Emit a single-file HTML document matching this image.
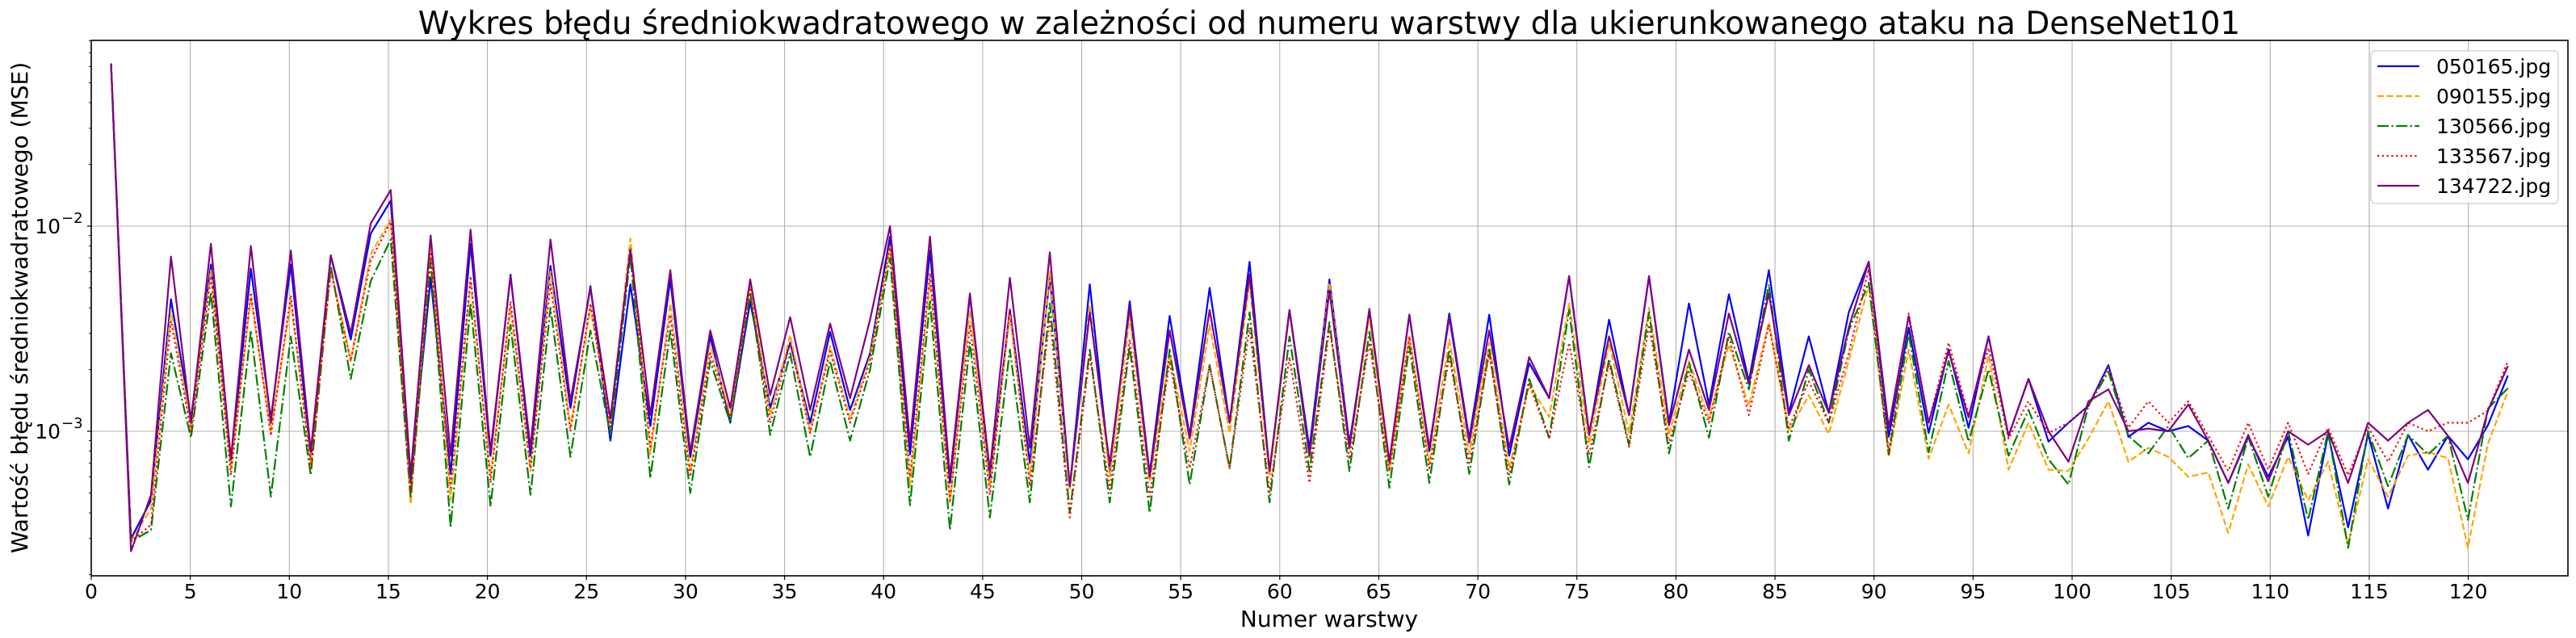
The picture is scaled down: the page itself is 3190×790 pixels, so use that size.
<!DOCTYPE html>
<html><head><meta charset="utf-8"><title>MSE chart</title>
<style>
html,body{margin:0;padding:0;background:#fff;}
svg{display:block;font-family:"DejaVu Sans","Liberation Sans",sans-serif;}
</style></head>
<body>
<svg id="chart" width="3190" height="790" viewBox="0 0 3190 790" xmlns="http://www.w3.org/2000/svg">
<rect x="0" y="0" width="3190" height="790" fill="#fff"/>
<text x="1646" y="42" font-size="39" text-anchor="middle" fill="#000">Wykres błędu średniokwadratowego w zależności od numeru warstwy dla ukierunkowanego ataku na DenseNet101</text>
<g id="grid"></g>
<g id="series"></g>
<rect x="113" y="50" width="3067" height="663" fill="none" stroke="#000" stroke-width="1.6"/>
<g id="axes"></g>
<text x="1646" y="776" font-size="28" text-anchor="middle" fill="#000">Numer warstwy</text>
<text transform="translate(34,381) rotate(-90)" font-size="28" text-anchor="middle" fill="#000">Wartość błędu średniokwadratowego (MSE)</text>
<g id="legend"></g>
</svg>
<script>
const seriesNames = ["050165.jpg","090155.jpg","130566.jpg","133567.jpg","134722.jpg"];
const xTicks = [0,5,10,15,20,25,30,35,40,45,50,55,60,65,70,75,80,85,90,95,100,105,110,115,120];
const yMajorTicks = [1e-3, 1e-2];
const yMajorLabels = ["−3", "−2"];
const layerFirst = 1;
const layerLast = 122;
const s050165 = [0.062,3.0e-4,4.6e-4,4.4e-3,1.15e-3,6.5e-3,7.0e-4,6.2e-3,1.15e-3,6.5e-3,7.3e-4,7.2e-3,2.8e-3,9.2e-3,1.33e-2,5.6e-4,5.6e-3,6.2e-4,8.2e-3,7.6e-4,5.8e-3,7.6e-4,6.4e-3,1.3e-3,5.1e-3,9.0e-4,5.2e-3,1.06e-3,5.5e-3,7.5e-4,2.9e-3,1.1e-3,4.3e-3,1.3e-3,2.7e-3,1.1e-3,3.05e-3,1.27e-3,2.4e-3,8.9e-3,7.7e-4,7.6e-3,5.6e-4,4.6e-3,5.7e-4,3.9e-3,7.0e-4,5.65e-3,5.3e-4,5.2e-3,6.4e-4,4.3e-3,6.2e-4,3.65e-3,9.5e-4,5.0e-3,1.1e-3,6.7e-3,6.4e-4,3.9e-3,8.2e-4,5.5e-3,8.7e-4,3.8e-3,7.0e-4,3.7e-3,8.0e-4,3.75e-3,9.2e-4,3.7e-3,7.6e-4,2.15e-3,1.45e-3,5.7e-3,9.6e-4,3.5e-3,1.2e-3,5.7e-3,1.1e-3,4.2e-3,1.35e-3,4.65e-3,1.75e-3,6.1e-3,1.23e-3,2.9e-3,1.23e-3,3.8e-3,6.7e-3,9.4e-4,3.2e-3,9.8e-4,2.5e-3,1.04e-3,2.9e-3,9.5e-4,1.8e-3,8.9e-4,1.1e-3,1.33e-3,2.1e-3,9.4e-4,1.1e-3,1.0e-3,1.06e-3,9.0e-4,5.6e-4,9.4e-4,6.0e-4,9.4e-4,3.1e-4,9.7e-4,3.4e-4,9.7e-4,4.2e-4,9.6e-4,6.5e-4,9.5e-4,7.3e-4,1.07e-3,1.87e-3];
const s090155 = [0.062,2.9e-4,4.2e-4,3.9e-3,1.05e-3,6.1e-3,6.6e-4,4.5e-3,1.0e-3,4.3e-3,7.0e-4,6.2e-3,2.2e-3,7.3e-3,1.08e-2,4.4e-4,8.2e-3,4.6e-4,5.4e-3,6.1e-4,4.0e-3,6.4e-4,6.0e-3,1.05e-3,4.0e-3,1.1e-3,8.7e-3,7.7e-4,4.2e-3,6.4e-4,2.65e-3,1.2e-3,5.3e-3,1.2e-3,2.95e-3,1.0e-3,2.6e-3,1.15e-3,2.3e-3,7.9e-3,5.4e-4,5.5e-3,4.5e-4,3.9e-3,5.4e-4,3.7e-3,6.0e-4,6.0e-3,5.2e-4,4.1e-3,6.0e-4,3.6e-3,5.7e-4,2.4e-3,8.0e-4,3.3e-3,9.8e-4,5.3e-3,6.0e-4,3.9e-3,7.3e-4,5.3e-3,8.2e-4,3.6e-3,6.4e-4,2.9e-3,7.0e-4,2.8e-3,7.8e-4,2.7e-3,6.6e-4,1.7e-3,1.17e-3,4.2e-3,8.7e-4,2.7e-3,9.8e-4,4.0e-3,9.6e-4,2.2e-3,1.15e-3,2.65e-3,1.33e-3,3.4e-3,1.0e-3,1.5e-3,9.7e-4,2.2e-3,5.2e-3,7.5e-4,2.5e-3,7.35e-4,1.35e-3,7.8e-4,2.35e-3,6.5e-4,1.1e-3,6.5e-4,6.4e-4,9.2e-4,1.4e-3,7.1e-4,8.3e-4,7.5e-4,6.0e-4,6.3e-4,3.2e-4,6.9e-4,4.3e-4,7.5e-4,4.6e-4,7.1e-4,2.8e-4,7.3e-4,4.8e-4,7.6e-4,7.9e-4,7.4e-4,2.7e-4,8.7e-4,1.57e-3];
const s130566 = [0.062,2.9e-4,3.3e-4,2.4e-3,9.3e-4,4.75e-3,4.3e-4,3.1e-3,4.8e-4,2.9e-3,6.1e-4,6.4e-3,1.8e-3,5.4e-3,8.6e-3,4.7e-4,6.8e-3,3.4e-4,4.2e-3,4.3e-4,3.3e-3,4.9e-4,4.0e-3,7.5e-4,3.1e-3,9.6e-4,7.2e-3,5.9e-4,3.1e-3,5.0e-4,2.2e-3,1.1e-3,4.7e-3,9.6e-4,2.4e-3,7.5e-4,2.2e-3,9.0e-4,2.0e-3,7.0e-3,4.35e-4,4.3e-3,3.3e-4,2.7e-3,3.8e-4,2.5e-3,4.5e-4,4.2e-3,4.0e-4,2.5e-3,4.5e-4,2.6e-3,4.0e-4,2.5e-3,5.5e-4,2.1e-3,6.6e-4,3.8e-3,4.5e-4,2.9e-3,6.4e-4,3.4e-3,6.4e-4,3.05e-3,5.3e-4,2.6e-3,5.6e-4,2.5e-3,6.2e-4,2.5e-3,5.5e-4,1.8e-3,9.3e-4,3.9e-3,6.7e-4,2.25e-3,8.6e-4,3.8e-3,7.8e-4,2.15e-3,9.3e-4,3.05e-3,1.6e-3,5.2e-3,9.0e-4,2.0e-3,1.1e-3,3.1e-3,5.3e-3,7.7e-4,3.0e-3,7.9e-4,2.2e-3,8.9e-4,2.0e-3,7.6e-4,1.27e-3,7.3e-4,5.5e-4,1.33e-3,1.95e-3,9.5e-4,7.8e-4,1.06e-3,7.4e-4,9.0e-4,4.2e-4,9.4e-4,4.8e-4,1.0e-3,3.7e-4,1.0e-3,2.7e-4,1.0e-3,5.4e-4,9.6e-4,7.7e-4,9.5e-4,3.7e-4,1.29e-3,1.62e-3];
const s133567 = [0.062,2.9e-4,3.5e-4,3.45e-3,1.0e-3,5.7e-3,6.1e-4,4.75e-3,9.5e-4,4.6e-3,6.6e-4,6.1e-3,2.2e-3,6.8e-3,1.05e-2,5.1e-4,7.5e-3,5.3e-4,5.7e-3,5.6e-4,4.3e-3,6.6e-4,5.2e-3,1.0e-3,4.2e-3,1.05e-3,7.8e-3,8.4e-4,3.7e-3,6.0e-4,2.4e-3,1.17e-3,4.9e-3,1.1e-3,2.7e-3,9.8e-4,2.45e-3,1.1e-3,2.2e-3,8.1e-3,6.0e-4,5.9e-3,4.6e-4,3.3e-3,4.9e-4,4.0e-3,5.4e-4,3.6e-3,3.8e-4,2.35e-3,5.2e-4,2.8e-3,4.8e-4,2.2e-3,6.6e-4,2.1e-3,6.6e-4,3.2e-3,5.05e-4,2.3e-3,5.6e-4,3.2e-3,7.3e-4,2.7e-3,6.4e-4,2.9e-3,6.6e-4,2.3e-3,7.0e-4,2.4e-3,6.1e-4,1.7e-3,9.2e-4,2.7e-3,7.7e-4,2.15e-3,8.4e-4,3.3e-3,8.7e-4,1.95e-3,1.1e-3,2.9e-3,1.2e-3,3.3e-3,1.04e-3,1.75e-3,1.1e-3,2.4e-3,6.2e-3,7.9e-4,3.75e-3,1.1e-3,2.7e-3,1.2e-3,2.55e-3,9.2e-4,1.4e-3,9.8e-4,1.1e-3,1.33e-3,2.05e-3,1.04e-3,1.4e-3,1.1e-3,1.4e-3,9.5e-4,6.4e-4,1.1e-3,6.5e-4,1.1e-3,6.2e-4,1.04e-3,6.1e-4,1.05e-3,7.1e-4,1.1e-3,1.0e-3,1.1e-3,1.1e-3,1.26e-3,2.2e-3];
const s134722 = [0.062,2.6e-4,4.9e-4,7.1e-3,1.1e-3,8.2e-3,7.3e-4,8.0e-3,1.1e-3,7.6e-3,8.0e-4,7.2e-3,3.0e-3,1.03e-2,1.5e-2,6.1e-4,9.0e-3,7.6e-4,9.6e-3,8.0e-4,5.7e-3,8.3e-4,8.6e-3,1.4e-3,5.0e-3,1.15e-3,7.7e-3,1.2e-3,6.1e-3,7.9e-4,3.1e-3,1.3e-3,5.5e-3,1.5e-3,3.6e-3,1.27e-3,3.35e-3,1.45e-3,3.5e-3,1.0e-2,8.8e-4,8.9e-3,6.0e-4,4.7e-3,6.4e-4,5.6e-3,8.3e-4,7.45e-3,5.4e-4,3.8e-3,6.9e-4,4.05e-3,6.0e-4,3.1e-3,9.2e-4,3.9e-3,1.1e-3,5.8e-3,6.4e-4,3.9e-3,7.6e-4,4.85e-3,8.3e-4,3.95e-3,7.1e-4,3.7e-3,8.3e-4,3.6e-3,8.8e-4,3.1e-3,8.3e-4,2.3e-3,1.45e-3,5.7e-3,9.8e-4,2.9e-3,1.2e-3,5.7e-3,1.07e-3,2.5e-3,1.27e-3,3.75e-3,1.7e-3,4.7e-3,1.2e-3,2.1e-3,1.23e-3,3.2e-3,6.7e-3,1.04e-3,3.65e-3,1.1e-3,2.45e-3,1.17e-3,2.9e-3,9.5e-4,1.8e-3,1.0e-3,7.1e-4,1.4e-3,1.6e-3,1.0e-3,1.03e-3,1.0e-3,1.35e-3,9.0e-4,5.6e-4,9.6e-4,5.7e-4,1.0e-3,8.6e-4,1.0e-3,5.6e-4,1.1e-3,9.0e-4,1.1e-3,1.27e-3,9.5e-4,5.6e-4,1.26e-3,2.08e-3];

const NS = "http://www.w3.org/2000/svg";
const plot = {left:113, right:3180, top:50, bottom:713};
const xScale = v => 113 + (v) * 24.53;
const yScale = v => 280 + (-2 - Math.log10(v)) * 254;
function mk(tag, attrs, parent){ const e=document.createElementNS(NS,tag); for(const k in attrs) e.setAttribute(k,attrs[k]); parent.appendChild(e); return e; }

const grid = document.getElementById('grid');
const axes = document.getElementById('axes');
xTicks.forEach(t => {
  const x = xScale(t);
  const gl = mk('line',{x1:x,x2:x,y1:plot.top,y2:plot.bottom,stroke:'#b0b0b0','stroke-width':1.1},grid);
  
  
  const tk = mk('line',{x1:x,x2:x,y1:plot.bottom,y2:plot.bottom+5,stroke:'#000','stroke-width':1.2},axes);
  
  
  const lb = mk('text',{x:x,y:741,'font-size':25,'text-anchor':'middle',fill:'#000'},axes);
  lb.textContent = String(t);
  
  
});
yMajorTicks.forEach((t,i) => {
  const y = yScale(t);
  const gl = mk('line',{x1:plot.left,x2:plot.right,y1:y,y2:y,stroke:'#b0b0b0','stroke-width':1.1},grid);
  
  
  const tk = mk('line',{x1:plot.left-5,x2:plot.left,y1:y,y2:y,stroke:'#000','stroke-width':1.2},axes);
  
  
  const lb = mk('text',{x:75,y:y+9,'font-size':25,'text-anchor':'end',fill:'#000'},axes);
  lb.textContent = '10';
  
  
  const sup = mk('text',{x:76,y:y-4,'font-size':18,'text-anchor':'start',fill:'#000'},axes);
  sup.textContent = yMajorLabels[i];
  
  
});
[-4,-3,-2].forEach(d => {
  for (let m=2;m<=9;m++){
    const v = m*Math.pow(10,d);
    const y = yScale(v);
    if (y < plot.top || y > plot.bottom+0.5) continue;
    const tk = mk('line',{x1:plot.left-3,x2:plot.left,y1:y,y2:y,stroke:'#000','stroke-width':0.9},axes);
    
    
  }
});

const styles = [
  {color:'#0000ff', dash:''},
  {color:'#ffa500', dash:'8.1 3.5'},
  {color:'#008000', dash:'14 3.5 2.2 3.5'},
  {color:'#ff0000', dash:'2.2 3.6'},
  {color:'#800080', dash:''}
];
const allSeries = [s050165, s090155, s130566, s133567, s134722];
const sg = document.getElementById('series');
allSeries.forEach((vals, si) => {
  const n = vals.length;
  const pts = vals.map((v,k) => {
    const xv = layerFirst + k*(layerLast-layerFirst)/(n-1);
    return xScale(xv).toFixed(2)+','+yScale(v).toFixed(2);
  }).join(' ');
  const pl = mk('polyline',{points:pts,fill:'none',stroke:styles[si].color,'stroke-width':2.2,'stroke-linejoin':'round'},sg);
  if (styles[si].dash) pl.setAttribute('stroke-dasharray', styles[si].dash);
  
  
});

const lg = document.getElementById('legend');
const box = mk('rect',{x:2936,y:63,width:232,height:189,rx:5,fill:'#fff','fill-opacity':0.8,stroke:'#cccccc','stroke-width':1.2},lg);


seriesNames.forEach((nm,i) => {
  const y = 82 + i*37;
  const ln = mk('line',{x1:2944,x2:2996,y1:y,y2:y,stroke:styles[i].color,'stroke-width':2.2},lg);
  if (styles[i].dash) ln.setAttribute('stroke-dasharray', styles[i].dash);
  
  
  const tx = mk('text',{x:3017,y:y+9,'font-size':25,fill:'#000'},lg);
  tx.textContent = nm;
  
  
});
</script>
</body></html>
